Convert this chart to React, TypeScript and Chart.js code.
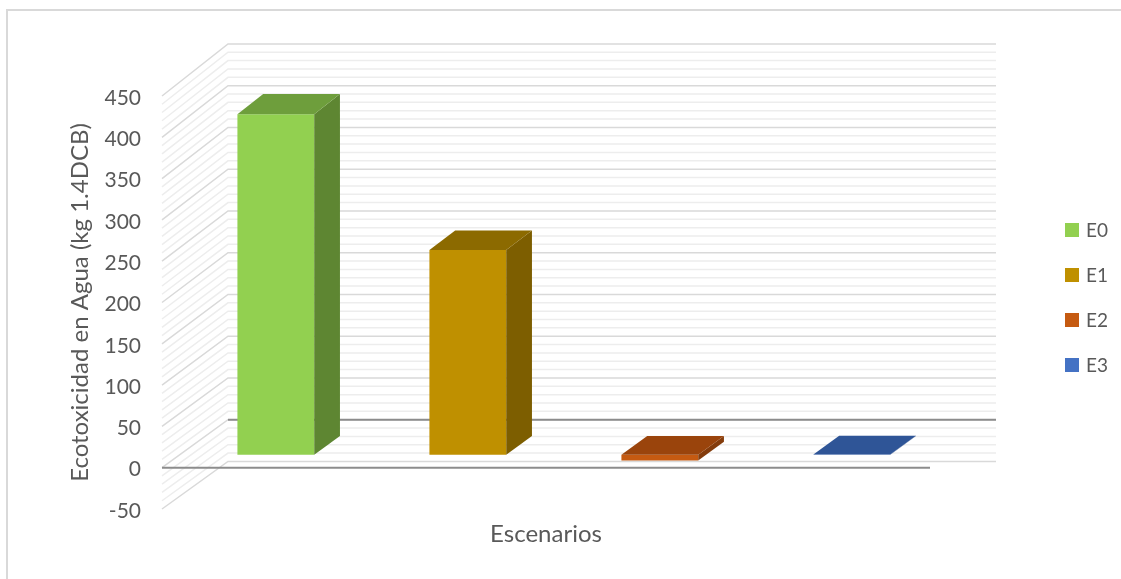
import React, { useEffect, useRef } from "react";
import { Chart, registerables } from "chart.js";

Chart.register(...registerables);

// ---- data ----
const categories = [""];
const seriesNames = ["E0", "E1", "E2", "E3"];
const seriesValues = [411, 247, -7, 0.3];
const frontColors = ["#92D050", "#BF9000", "#C55A11", "#4472C4"];
const topColors = ["#6E9E3C", "#8C6A00", "#9A440C", "#2F5597"];
const sideColors = ["#5E8632", "#7D5E00", "#843C0C", "#264478"];
const yMin = -50;
const yMax = 450;
const yStep = 50;
const minorStep = 10;
const yTitle = "Ecotoxicidad en Agua (kg 1.4DCB)";
const xTitle = "Escenarios";

const FONT = "Lato, 'Liberation Sans', sans-serif";
const TEXT = "#595959";

// oblique 3D projection parameters
const DX = 66;
const DY = -48;
const K = 0.011;
const D0 = 0.27;
const D1 = 0.66;

const threeD = {
  id: "threeD",
  beforeDatasetsDraw(chart: any) {
    const { ctx, chartArea } = chart;
    const ys = chart.scales.y;
    const zeroY = ys.getPixelForValue(0);
    const P = (x: number, y: number, d: number) => [x + DX * d, y + DY * d - (zeroY - y) * K * d];
    const poly = (pts: number[][], fill: string) => {
      ctx.beginPath();
      ctx.moveTo(pts[0][0], pts[0][1]);
      for (let i = 1; i < pts.length; i++) ctx.lineTo(pts[i][0], pts[i][1]);
      ctx.closePath();
      ctx.fillStyle = fill;
      ctx.fill();
    };
    ctx.save();
    // chart border
    ctx.strokeStyle = "#D9D9D9";
    ctx.lineWidth = 2;
    ctx.strokeRect(7, 10, 1400, 800);

    // walls: minor then major gridlines
    ctx.lineWidth = 1.5;
    for (const pass of [0, 1]) {
      for (let v = yMin; v <= yMax + 0.001; v += minorStep) {
        const major = Math.abs(v % yStep) < 0.001;
        if ((pass === 1) !== major) continue;
        const y = ys.getPixelForValue(v);
        const a = P(chartArea.left, y, 0);
        const b = P(chartArea.left, y, 1);
        const c = P(chartArea.right, y, 1);
        ctx.strokeStyle = major ? "#D9D9D9" : "#EDEDED";
        ctx.beginPath();
        ctx.moveTo(a[0], a[1]);
        ctx.lineTo(b[0], b[1]);
        ctx.lineTo(c[0], c[1]);
        ctx.stroke();
      }
    }
    // back floor line at zero
    ctx.strokeStyle = "#8C8C8C";
    ctx.lineWidth = 2;
    {
      const b = P(chartArea.left, zeroY, 1);
      const c = P(chartArea.right, zeroY, 1);
      ctx.beginPath();
      ctx.moveTo(b[0], b[1]);
      ctx.lineTo(c[0], c[1]);
      ctx.stroke();
    }

    // bars
    chart.data.datasets.forEach((ds: any, i: number) => {
      const meta = chart.getDatasetMeta(i);
      const el = meta.data[0];
      if (!el) return;
      const { x, y, base, width } = el.getProps(["x", "y", "base", "width"], true);
      const xl = x - width / 2;
      const xr = x + width / 2;
      const yt = Math.min(y, base);
      const yb = Math.max(y, base);
      poly([P(xl, yt, D0), P(xr, yt, D0), P(xr, yb, D0), P(xl, yb, D0)], frontColors[i]);
      poly([P(xr, yt, D0), P(xr, yt, D1), P(xr, yb, D1), P(xr, yb, D0)], sideColors[i]);
      poly([P(xl, yt, D0), P(xr, yt, D0), P(xr, yt, D1), P(xl, yt, D1)], topColors[i]);
    });

    // front axis line at zero
    ctx.strokeStyle = "#8C8C8C";
    ctx.lineWidth = 2;
    ctx.beginPath();
    ctx.moveTo(chartArea.left, zeroY);
    ctx.lineTo(chartArea.right, zeroY);
    ctx.stroke();
    ctx.restore();
    return false;
  },
  afterDraw(chart: any) {
    const { ctx } = chart;
    ctx.save();
    ctx.font = `19px ${FONT}`;
    ctx.textBaseline = "middle";
    ctx.textAlign = "left";
    seriesNames.forEach((name, i) => {
      const cy = 230 + 45 * i;
      ctx.fillStyle = frontColors[i];
      ctx.fillRect(1065, cy - 7, 14, 14);
      ctx.fillStyle = TEXT;
      ctx.fillText(name, 1086, cy + 1);
    });
    ctx.restore();
  },
};

export default function App() {
  const ref = useRef<HTMLCanvasElement>(null);
  useEffect(() => {
    if (!ref.current) return;
    const chart = new Chart(ref.current, {
      type: "bar",
      data: {
        labels: categories,
        datasets: seriesNames.map((name, i) => ({
          label: name,
          data: [seriesValues[i]],
          backgroundColor: frontColors[i],
          categoryPercentage: 1,
          barPercentage: 0.4,
        })),
      },
      options: {
        responsive: false,
        animation: false,
        layout: { padding: { top: 96, right: 191, bottom: 0, left: 0 } },
        plugins: { legend: { display: false }, tooltip: { enabled: false } },
        scales: {
          x: {
            grid: { display: false },
            border: { display: false },
            ticks: { display: false },
            title: {
              display: true,
              text: xTitle,
              color: TEXT,
              font: { family: FONT, size: 24 },
              padding: { top: 0, bottom: 30 },
            },
            afterFit: (s: any) => {
              s.height = 70;
            },
          },
          y: {
            min: yMin,
            max: yMax,
            grid: { display: false, drawTicks: false },
            border: { display: false },
            ticks: {
              stepSize: yStep,
              color: TEXT,
              font: { family: FONT, size: 21 },
              padding: 21,
              labelOffset: 2,
            },
            title: {
              display: true,
              text: yTitle,
              color: TEXT,
              font: { family: FONT, size: 24 },
              padding: { top: 66, bottom: 0 },
            },
            afterFit: (s: any) => {
              s.width = 162;
            },
          },
        },
      },
      plugins: [threeD],
    });
    return () => chart.destroy();
  }, []);
  return (
    <div style={{ position: "absolute", left: 0, top: 0, width: 1121, height: 579, background: "#fff" }}>
      <canvas ref={ref} width={1121} height={579} style={{ display: "block" }} />
    </div>
  );
}
